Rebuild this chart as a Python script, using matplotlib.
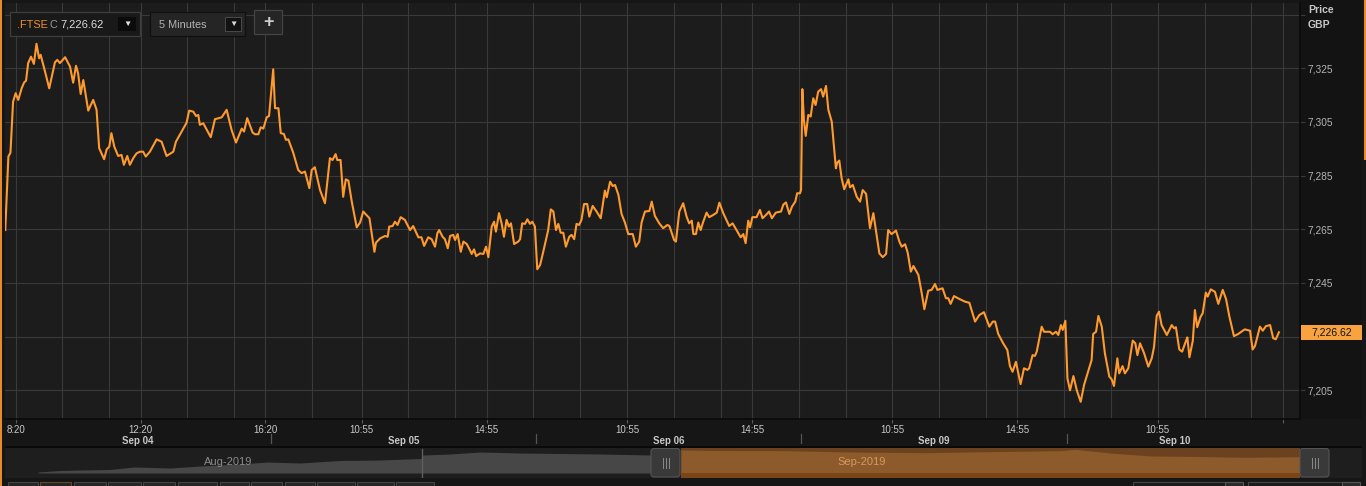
import matplotlib
matplotlib.use("Agg")
import matplotlib.pyplot as plt
import matplotlib.transforms as mtransforms
from matplotlib.patches import Rectangle, FancyBboxPatch
from matplotlib.lines import Line2D

plt.rcParams['font.family'] = ['Liberation Sans', 'DejaVu Sans']

W, H = 1366, 486
BG = '#161616'
PLOT_BG = '#1c1c1c'
GRID = '#3a3a3a'
ORANGE = '#ff9a2e'

# --- FTSE 5-minute series: x = bar number since Sep 04 08:00 (102 bars per session) ---
bar_idx = [
    0.0, 1.2, 2.0, 3.0, 4.0, 5.0, 6.3, 7.2, 8.0, 8.8, 9.9, 11.0, 12.0, 13.0, 13.6, 15.3,
    16.9, 19.1, 20.0, 21.0, 23.0, 24.9, 26.1, 27.2, 28.0, 29.0, 30.0, 31.9, 33.8, 35.1, 36.1, 38.0,
    39.0, 40.0, 40.8, 41.9, 43.4, 44.7, 45.6, 46.9, 47.9, 49.2, 50.5, 51.8, 53.0, 54.0, 55.6, 58.2,
    60.1, 62.0, 64.6, 65.6, 67.8, 69.7, 70.7, 72.3, 73.3, 74.2, 74.8, 76.1, 79.0, 80.6, 83.2, 85.1,
    87.0, 88.7, 90.9, 91.8, 93.0, 95.1, 96.0, 97.3, 98.2, 99.2, 100.5, 101.4, 103.0, 103.7, 105.0, 105.9,
    107.1, 107.9, 108.8, 110.7, 112.6, 113.9, 115.2, 116.9, 117.8, 119.0, 121.0, 122.9, 124.8, 125.8, 127.0, 127.6,
    128.9, 129.9, 130.9, 131.9, 133.2, 135.1, 136.4, 137.6, 140.0, 141.9, 142.5, 144.1, 146.0, 147.0, 147.6, 148.9,
    149.8, 150.8, 152.0, 153.6, 155.6, 156.8, 158.8, 160.0, 161.0, 162.6, 163.9, 165.2, 166.1, 166.8, 168.1, 169.0,
    170.1, 171.0, 172.2, 172.9, 173.9, 175.1, 176.1, 177.4, 178.6, 179.3, 180.2, 181.0, 182.5, 183.8, 184.8, 185.7,
    187.0, 187.9, 188.6, 189.8, 190.8, 191.7, 192.7, 193.6, 194.4, 195.6, 197.2, 197.9, 198.7, 199.8, 200.7, 201.7,
    202.6, 203.6, 204.5, 205.6, 206.8, 208.7, 209.7, 210.7, 211.7, 212.6, 213.5, 214.5, 215.5, 216.8, 217.7, 218.7,
    219.6, 220.6, 221.5, 222.5, 223.7, 224.5, 225.8, 227.3, 228.9, 230.5, 231.2, 232.5, 233.5, 234.4, 235.7, 236.9,
    238.2, 239.5, 241.2, 242.4, 243.7, 244.6, 245.9, 247.6, 248.5, 249.7, 251.4, 252.9, 254.5, 255.3, 257.1, 257.8,
    259.1, 260.6, 261.9, 262.9, 263.9, 264.5, 265.5, 266.4, 267.3, 268.3, 269.6, 270.6, 272.1, 273.5, 274.5, 276.0,
    278.3, 279.6, 281.1, 282.7, 283.7, 284.6, 285.6, 286.3, 287.2, 288.8, 290.1, 291.1, 292.4, 293.6, 294.7, 296.2,
    298.2, 299.1, 300.1, 301.4, 302.4, 303.7, 304.4, 305.5, 305.9, 306.4, 307.0, 307.7, 308.7, 309.6, 310.6, 311.5,
    312.5, 313.6, 314.4, 315.5, 316.4, 317.7, 319.3, 319.8, 320.6, 321.5, 322.5, 324.1, 324.7, 325.8, 327.3, 328.6,
    329.6, 330.9, 332.4, 333.7, 336.0, 337.3, 338.6, 339.4, 340.7, 342.4, 343.7, 344.6, 345.9, 346.9, 348.1, 349.1,
    351.0, 352.3, 353.3, 354.8, 356.1, 357.4, 358.3, 360.3, 361.6, 362.5, 363.4, 364.7, 367.0, 369.0, 370.6, 372.8,
    374.4, 376.2, 378.3, 379.6, 380.5, 381.7, 383.6, 385.2, 386.2, 387.2, 388.5, 390.3, 391.6, 392.9, 393.6, 394.9,
    395.8, 396.5, 398.4, 399.3, 401.6, 402.6, 403.9, 404.8, 405.8, 406.5, 407.5, 408.3, 409.3, 410.6, 411.9, 413.4,
    414.7, 417.6, 418.2, 419.3, 420.2, 421.5, 422.7, 424.4, 425.3, 426.2, 427.5, 428.2, 429.5, 430.4, 431.7, 433.4,
    434.4, 435.2, 436.2, 437.7, 439.4, 440.7, 441.6, 442.6, 443.5, 444.5, 446.5, 448.4, 449.3, 450.0, 451.3, 452.4,
    453.9, 454.4, 455.2, 456.5, 457.3, 458.2, 459.5, 460.3, 461.5, 462.2, 463.4, 465.0, 466.3, 468.0, 469.3, 470.5,
    472.3, 474.0, 475.7, 476.5, 478.5, 479.5, 480.4, 482.3, 483.4, 484.6, 486.2, 487.4, 488.4, 489.6,
]
price = [
    7264.7, 7292.1, 7293.5, 7312.5, 7315.7, 7313.2, 7317.5, 7319.6, 7320.4, 7326.9, 7329.3, 7326.6, 7334.1, 7328.7, 7330.0, 7323.7,
    7317.5, 7327.2, 7328.1, 7326.9, 7329.1, 7325.6, 7319.6, 7325.9, 7323.1, 7315.4, 7320.6, 7309.2, 7313.2, 7309.5, 7295.2, 7291.1,
    7294.8, 7295.8, 7300.8, 7295.8, 7292.3, 7292.7, 7289.0, 7292.3, 7289.0, 7291.5, 7293.3, 7293.9, 7293.9, 7292.1, 7293.9, 7298.5,
    7297.6, 7292.3, 7293.9, 7297.6, 7301.4, 7304.7, 7309.2, 7308.8, 7307.2, 7307.6, 7303.9, 7304.5, 7299.3, 7306.0, 7306.7, 7309.5,
    7302.0, 7297.3, 7302.5, 7301.4, 7306.4, 7301.0, 7300.4, 7300.4, 7303.0, 7302.5, 7306.7, 7307.2, 7324.6, 7310.1, 7310.1, 7300.8,
    7300.5, 7298.3, 7298.5, 7293.5, 7287.1, 7285.9, 7286.5, 7280.3, 7287.1, 7288.1, 7279.6, 7274.7, 7291.5, 7290.8, 7293.0, 7290.8,
    7290.8, 7277.1, 7283.6, 7283.1, 7275.3, 7265.7, 7267.5, 7271.6, 7269.1, 7256.6, 7260.0, 7261.6, 7262.5, 7262.2, 7266.0, 7266.2,
    7267.8, 7266.6, 7269.5, 7268.5, 7264.7, 7266.2, 7262.0, 7262.0, 7258.8, 7262.0, 7261.3, 7258.5, 7263.5, 7264.7, 7262.2, 7261.3,
    7257.9, 7262.5, 7262.9, 7261.0, 7263.2, 7256.6, 7260.4, 7259.5, 7257.3, 7255.8, 7257.5, 7255.0, 7256.0, 7255.8, 7258.5, 7254.6,
    7266.0, 7267.8, 7264.1, 7271.0, 7267.2, 7262.2, 7268.5, 7266.0, 7267.2, 7259.5, 7260.4, 7261.3, 7267.2, 7267.0, 7268.7, 7267.0,
    7267.8, 7266.0, 7250.1, 7251.7, 7256.6, 7264.7, 7272.4, 7271.6, 7264.7, 7267.0, 7263.7, 7263.7, 7258.5, 7262.2, 7262.9, 7261.3,
    7267.0, 7266.6, 7268.5, 7274.4, 7274.4, 7269.7, 7273.7, 7271.6, 7269.1, 7279.4, 7276.9, 7282.7, 7281.1, 7281.5, 7277.8, 7270.7,
    7267.5, 7263.2, 7263.2, 7258.5, 7260.4, 7267.5, 7271.6, 7271.8, 7275.3, 7270.0, 7267.2, 7265.4, 7266.6, 7266.2, 7261.0, 7260.4,
    7271.6, 7274.7, 7269.7, 7267.2, 7268.2, 7263.2, 7263.2, 7267.5, 7264.7, 7267.8, 7271.2, 7269.5, 7270.3, 7271.2, 7274.9, 7271.0,
    7266.2, 7267.2, 7264.7, 7262.0, 7263.2, 7259.8, 7268.2, 7265.7, 7269.5, 7269.5, 7272.2, 7269.1, 7270.3, 7271.6, 7269.1, 7271.2,
    7271.6, 7274.2, 7275.0, 7270.7, 7273.4, 7275.3, 7278.4, 7278.4, 7279.6, 7317.2, 7305.7, 7299.8, 7307.6, 7307.0, 7313.8, 7311.3,
    7316.3, 7317.2, 7314.4, 7318.4, 7309.5, 7305.1, 7287.7, 7289.8, 7290.6, 7284.0, 7279.9, 7283.6, 7280.6, 7281.5, 7277.1, 7275.3,
    7279.6, 7278.2, 7265.4, 7271.0, 7256.0, 7254.6, 7255.8, 7264.7, 7263.2, 7264.5, 7260.4, 7258.5, 7259.4, 7256.3, 7249.2, 7251.3,
    7248.0, 7241.1, 7235.2, 7242.1, 7242.4, 7244.6, 7242.4, 7243.0, 7239.3, 7239.3, 7237.2, 7240.1, 7238.9, 7238.0, 7237.6, 7230.6,
    7233.0, 7234.1, 7228.7, 7230.6, 7230.6, 7226.0, 7222.5, 7220.0, 7214.0, 7211.9, 7215.6, 7207.3, 7213.2, 7212.6, 7213.2, 7218.1,
    7217.8, 7219.4, 7228.7, 7226.8, 7226.8, 7225.9, 7226.8, 7225.6, 7229.3, 7227.5, 7230.9, 7209.4, 7205.0, 7210.3, 7205.0, 7200.7,
    7207.0, 7216.3, 7226.0, 7226.8, 7232.7, 7228.7, 7218.8, 7210.1, 7209.1, 7206.6, 7216.9, 7211.3, 7214.0, 7211.3, 7213.2, 7223.5,
    7222.5, 7218.1, 7222.5, 7219.0, 7213.8, 7216.9, 7221.2, 7232.7, 7234.3, 7229.3, 7225.6, 7229.3, 7228.1, 7228.5, 7220.2, 7219.4,
    7223.5, 7224.7, 7217.3, 7223.5, 7234.9, 7228.5, 7232.4, 7233.7, 7241.4, 7239.9, 7242.6, 7241.7, 7237.2, 7242.4, 7238.9, 7232.7,
    7225.2, 7226.0, 7227.2, 7227.7, 7227.2, 7220.2, 7221.5, 7228.7, 7227.2, 7228.9, 7229.3, 7224.4, 7224.0, 7226.62,
]
last_price = 7226.62

price_ticks = [7205, 7225, 7245, 7265, 7285, 7305, 7325, 7345]
hidden_price_labels = [7225, 7345]  # covered by the price tag / the "Price GBP" header
time_tick_pos = [4, 52, 100, 137, 185, 239, 287, 341, 389, 443, 491]
time_tick_labels = ['8:20', '12:20', '16:20', '10:55', '14:55', '10:55', '14:55', '10:55', '14:55', '10:55', '']
day_labels = ['Sep 04', 'Sep 05', 'Sep 06', 'Sep 09', 'Sep 10']
day_label_pos = [51, 153, 255, 357, 449.5]
day_breaks = [102, 204, 306, 408]

# navigator (mini overview) levels
nav_aug_x = [38, 60, 80, 110, 134, 170, 200, 240, 268, 300, 340, 380, 421, 423, 450, 480, 520, 560, 600, 651]
nav_aug_level = [6, 7.5, 8, 8.5, 11, 10, 12, 14, 16, 15, 17.5, 18, 19.5, 23, 24, 26, 25, 24.5, 24, 23]
nav_sep_x = [681, 720, 787, 850, 924, 1000, 1061, 1075, 1110, 1152, 1200, 1244, 1300]
nav_sep_level = [28, 27.5, 27.3, 26, 25.3, 26.5, 27.3, 28.7, 25, 22, 21.5, 20.7, 21.3]

fig = plt.figure(figsize=(W / 100, H / 100), dpi=100, facecolor=BG)


def px_axes(left, top, right, bottom):
    return fig.add_axes([left / W, 1 - bottom / H, (right - left) / W, (bottom - top) / H])


def px_rect(left, top, right, bottom, **kw):
    r = Rectangle((left / W, 1 - bottom / H), (right - left) / W, (bottom - top) / H,
                  transform=fig.transFigure, **kw)
    fig.add_artist(r)
    return r


def px_text(x, y, s, **kw):
    return fig.text(x / W, 1 - y / H, s, **kw)


# right price panel background
px_rect(1300, 0, 1362, 419, facecolor='#131313', edgecolor='none', zorder=-1)

# --- main chart ---
ax = px_axes(5, 3, 1300, 419)
ax.set_facecolor(PLOT_BG)
ax.set_xlim(-0.1, 497.7)
ax.set_ylim(7194.3, 7349.3)

# vertical grid: every labelled time plus every 18 bars (1.5 h) after it
grid_x = []
for a, b in zip(time_tick_pos, time_tick_pos[1:] + [498]):
    grid_x.extend(x for x in range(a, b, 18) if b - x > 4)
for y in price_ticks:
    ax.axhline(y, color=GRID, lw=0.8, zorder=1)
for x in grid_x:
    ax.axvline(x, color=GRID, lw=0.8, zorder=1)

ax.plot(bar_idx, price, color=ORANGE, lw=1.5, zorder=3, solid_joinstyle='round')

for side in ['left', 'top']:
    ax.spines[side].set_visible(False)
for side in ['bottom', 'right']:
    ax.spines[side].set_color('#0a0a0a')
    ax.spines[side].set_linewidth(1.2)

ax.set_xticks(time_tick_pos)
ax.set_xticklabels(time_tick_labels)
ax.tick_params(axis='x', length=3, width=0.8, color='#5a5a5a', pad=1.2,
               labelsize=7, labelcolor='#c8c8c8')

ax.yaxis.tick_right()
ax.set_yticks(price_ticks)
ax.set_yticklabels(['' if v in hidden_price_labels else f'{v:,}' for v in price_ticks])
ax.tick_params(axis='y', length=3.6, width=0.8, color=GRID, pad=2,
               labelsize=7.3, labelcolor='#b4b4b4')

band = mtransforms.blended_transform_factory(ax.transData, ax.transAxes)
for pos, lab in zip(day_label_pos, day_labels):
    ax.text(pos, -21.5 / 416, lab, transform=band, ha='center', va='center',
            fontsize=7, fontweight='bold', color='#c8c8c8', clip_on=False)
for b in day_breaks:
    ax.add_line(Line2D([b, b], [-15 / 416, -24 / 416], transform=band, color='#555555',
                       lw=0.9, clip_on=False))

# last price tag
tag = mtransforms.blended_transform_factory(ax.transAxes, ax.transData)
ax.add_patch(Rectangle((1.0 + 1 / 1295, last_price - 2.8), 61 / 1295, 5.6, transform=tag,
                       facecolor='#f8a240', edgecolor='none', clip_on=False, zorder=6))
ax.text(1.0 + 31.5 / 1295, last_price, f'{last_price:,.2f}', transform=tag, ha='center',
        va='center', fontsize=7.5, color='#111111', clip_on=False, zorder=7)

px_text(1308, 10, 'Price', fontsize=7.5, fontweight='bold', color='#c8c8c8', va='center')
px_text(1308, 24.5, 'GBP', fontsize=7.5, fontweight='bold', color='#c8c8c8', va='center')

# band borders
px_rect(5, 446, 1362, 447.5, facecolor='#0a0a0a', edgecolor='none', zorder=2)

# --- navigator ---
nav = px_axes(5, 447.5, 1362, 478)
nav.set_facecolor('#1e1e1e')
nav.set_xlim(5, 1362)
nav.set_ylim(0, 30.5)
nav.axis('off')
nav.add_patch(Rectangle((5, 0), 1357, 30.5, facecolor='#1e1e1e', edgecolor='none', zorder=0))
nav.fill_between(nav_aug_x, 5, nav_aug_level, color='#474747', lw=0, zorder=1)
nav.plot([422, 422], [0, 29], color='#5e5e5e', lw=1, zorder=2)
nav.add_patch(Rectangle((681, 0), 619, 30, facecolor='#6b421f', edgecolor='none', zorder=1))
nav.fill_between(nav_sep_x, 5, nav_sep_level, color='#8d5a2b', lw=0, zorder=2)
nav.add_patch(Rectangle((681, 0), 619, 5, facecolor='#7a4617', edgecolor='none', zorder=2))
nav.text(228, 16, 'Aug-2019', ha='center', va='center', fontsize=8, color='#8a8a8a', zorder=3)
nav.text(862, 16, 'Sep-2019', ha='center', va='center', fontsize=8, color='#d49a60', zorder=3)
for hx in [651, 1300]:
    nav.add_patch(FancyBboxPatch((hx, 1), 29, 28.5, boxstyle='round,pad=0,rounding_size=3',
                                 facecolor='#393939', edgecolor='#555555', lw=0.8, zorder=4))
    for dx in [-3, 0, 3]:
        nav.plot([hx + 14.5 + dx] * 2, [10, 20], color='#8a8a8a', lw=0.7, zorder=5)

# bottom button row
for l, r in [(8, 38), (40, 71), (74, 106), (108, 141), (143, 175), (178, 217), (220, 249),
             (251, 282), (285, 315), (317, 355), (357, 394), (396, 434)]:
    ec = '#6b4a1f' if l == 40 else '#454545'
    px_rect(l, 481.5, r, 490, facecolor='#262626', edgecolor=ec, lw=0.8, zorder=3)
for l, r in [(1133, 1243), (1248, 1360)]:
    px_rect(l, 481.5, r, 490, facecolor='#1a1a1a', edgecolor='#454545', lw=0.8, zorder=3)
    px_rect(r - 18, 481.5, r, 490, facecolor='#2a2a2a', edgecolor='#555555', lw=0.8, zorder=3)

# --- top-left controls ---
px_rect(9.5, 12, 140, 36, facecolor='#191919', edgecolor='#3e3e3e', lw=0.9, zorder=5)
px_rect(118, 17, 136, 31.5, facecolor='#0b0b0b', edgecolor='none', zorder=6)
px_text(127, 24.5, '\u25BC', fontsize=6, color='#e0e0e0', ha='center', va='center', zorder=7)
px_text(17, 24.5, '.FTSE', fontsize=7.8, color='#f0922b', va='center', zorder=7)
px_text(50, 24.5, 'C', fontsize=7.8, color='#9a9a9a', va='center', zorder=7)
px_text(60, 24.5, f'{last_price:,.2f}', fontsize=8, color='#dcdcdc', va='center', zorder=7)

px_rect(149.5, 12, 245, 36, facecolor='#252525', edgecolor='#101010', lw=0.9, zorder=5)
px_rect(225, 17, 241, 31.5, facecolor='#121212', edgecolor='#4a4a4a', lw=0.7, zorder=6)
px_text(233, 24.5, '\u25BC', fontsize=6, color='#d8d8d8', ha='center', va='center', zorder=7)
px_text(159, 24.5, '5 Minutes', fontsize=7.8, color='#b4b4b4', va='center', zorder=7)

px_rect(254, 10, 282, 34, facecolor='#252525', edgecolor='#444444', lw=0.9, zorder=5)
px_text(268, 22, '+', fontsize=13, fontweight='bold', color='#cfcfcf', ha='center',
        va='center', zorder=7)

# orange window edges
px_rect(0, 0, 2, 486, facecolor='#e8892a', edgecolor='none', zorder=10)
px_rect(1363.5, 0, 1366, 160, facecolor='#e8892a', edgecolor='none', zorder=10)

fig.savefig('out.png', dpi=100, facecolor=BG)
